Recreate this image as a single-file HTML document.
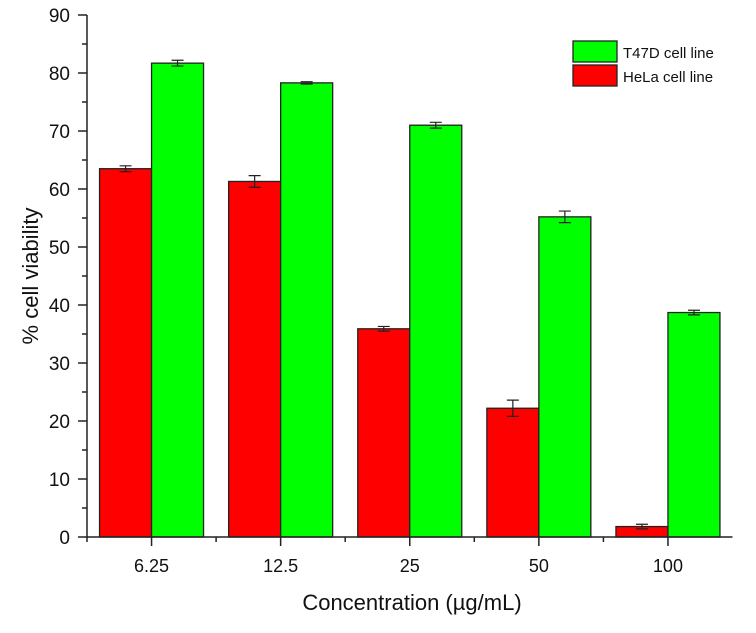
<!DOCTYPE html>
<html><head><meta charset="utf-8"><style>
html,body{margin:0;padding:0;background:#fff;}
svg{display:block;font-family:"Liberation Sans",Arial,sans-serif;}
</style></head><body>
<svg id="chart" width="756" height="633" viewBox="0 0 756 633">
<g id="bars"></g>
<g id="axes"></g>
<g>
  <rect x="573" y="41" width="44" height="21" fill="#00ff00" stroke="#222" stroke-width="1.3"/>
  <text x="623" y="58" font-size="15" fill="#111">T47D cell line</text>
  <rect x="573" y="65" width="44" height="21" fill="#ff0000" stroke="#222" stroke-width="1.3"/>
  <text x="623" y="82" font-size="15" fill="#111">HeLa cell line</text>
</g>
<text x="412" y="610" font-size="22" text-anchor="middle" fill="#111">Concentration (µg/mL)</text>
<text transform="translate(38,276) rotate(-90)" font-size="22" text-anchor="middle" fill="#111">% cell viability</text>
</svg>
<script>
const categories = ["6.25","12.5","25","50","100"];
const helaValues = [63.5, 61.3, 35.9, 22.2, 1.8];
const helaErrors = [0.5, 1.0, 0.4, 1.4, 0.4];
const t47dValues = [81.7, 78.3, 71.0, 55.2, 38.7];
const t47dErrors = [0.5, 0.2, 0.5, 1.0, 0.4];
const yTicks = [0,10,20,30,40,50,60,70,80,90];

const NS = "http://www.w3.org/2000/svg";
const x0 = 87, x1 = 732.5, yTop = 15, yBot = 537, yMax = 90;
const step = (x1 - x0) / categories.length;
const barW = 52;
function xCenter(i){ return x0 + step*(i+0.5); }
function yScale(v){ return yBot - v/yMax*(yBot - yTop); }
function mk(tag, attrs, parent){ const e = document.createElementNS(NS, tag); for (const k in attrs) e.setAttribute(k, attrs[k]); parent.appendChild(e); return e; }

const bars = document.getElementById('bars');
const axes = document.getElementById('axes');

function drawSeries(vals, errs, offset, color, name){
  vals.forEach((v,i)=>{
    const cx = xCenter(i) + offset;
    const r = mk('rect', {x: cx - barW/2, y: yScale(v), width: barW, height: yBot - yScale(v), fill: color, stroke: '#222', 'stroke-width': 1.3}, bars);
    
    
    const e = errs[i];
    const g = mk('path', {d: `M${cx-6},${yScale(v+e)}H${cx+6}M${cx},${yScale(v+e)}V${yScale(v-e)}M${cx-6},${yScale(v-e)}H${cx+6}`, stroke: '#222', 'stroke-width': 1.2, fill: 'none'}, bars);
    
    
  });
}
drawSeries(helaValues, helaErrors, -barW/2, '#ff0000', 'hela');
drawSeries(t47dValues, t47dErrors, barW/2, '#00ff00', 't47d');

// axes lines
const yl = mk('line', {x1: x0, y1: yTop, x2: x0, y2: yBot, stroke: '#222', 'stroke-width': 1.5}, axes);


const xl = mk('line', {x1: x0, y1: yBot, x2: x1, y2: yBot, stroke: '#222', 'stroke-width': 1.5}, axes);



yTicks.forEach((t, i)=>{
  const y = yScale(t);
  mk('line', {x1: x0-9, y1: y, x2: x0, y2: y, stroke: '#222', 'stroke-width': 1.5}, axes);
  if (i < yTicks.length-1) mk('line', {x1: x0-5, y1: yScale(t+5), x2: x0, y2: yScale(t+5), stroke: '#222', 'stroke-width': 1.5}, axes);
  const tx = mk('text', {x: x0-17, y: y+7, 'font-size': 19, 'text-anchor': 'end', fill: '#111'}, axes);
  tx.textContent = t;
  
  
});
categories.forEach((c,i)=>{
  const x = xCenter(i);
  mk('line', {x1: x, y1: yBot, x2: x, y2: yBot+9, stroke: '#222', 'stroke-width': 1.5}, axes);
  if (i < categories.length-1) mk('line', {x1: x+step/2, y1: yBot, x2: x+step/2, y2: yBot+5, stroke: '#222', 'stroke-width': 1.5}, axes);
  const tx = mk('text', {x: x, y: 572, 'font-size': 18, 'text-anchor': 'middle', fill: '#111'}, axes);
  tx.textContent = c;
  
  
});
mk('line', {x1: x0, y1: yBot, x2: x0, y2: yBot+5, stroke: '#222', 'stroke-width': 1.5}, axes);
</script>
</body></html>
